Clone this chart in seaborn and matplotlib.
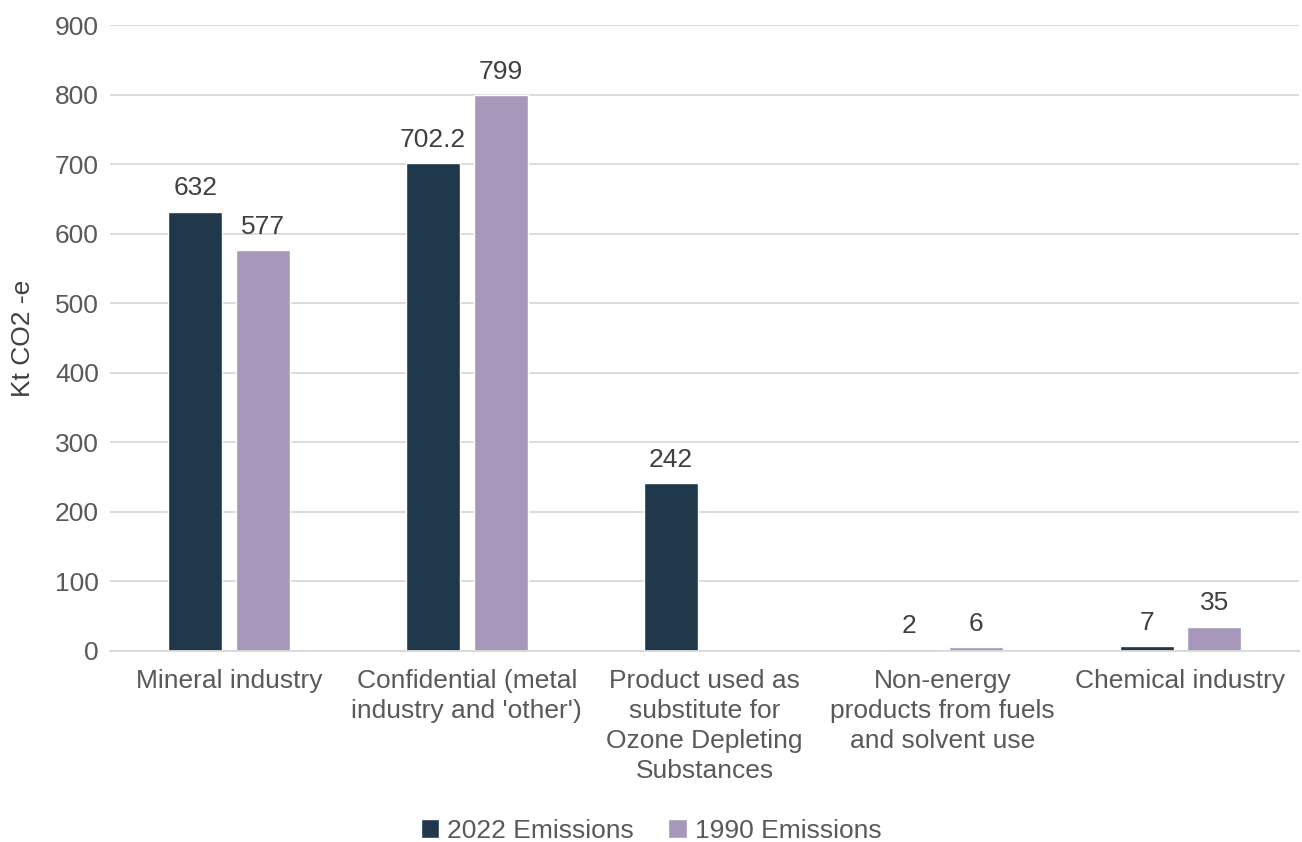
import matplotlib
matplotlib.use("Agg")
import matplotlib.pyplot as plt
import seaborn as sns
import pandas as pd
import numpy as np

categories = ["Mineral industry", "Confidential (metal\nindustry and 'other')",
              "Product used as\nsubstitute for\nOzone Depleting\nSubstances",
              "Non-energy\nproducts from fuels\nand solvent use", "Chemical industry"]
emissions_2022 = [632, 702.2, 242, 2, 7]
emissions_1990 = [577, 799, np.nan, 6, 35]
series = ["2022 Emissions", "1990 Emissions"]
colors = ["#1F384C", "#A797BA"]
yticks = [0, 100, 200, 300, 400, 500, 600, 700, 800, 900]

df = pd.DataFrame({
    "category": categories * 2,
    "series": [series[0]] * len(categories) + [series[1]] * len(categories),
    "value": emissions_2022 + emissions_1990,
})

sns.set_theme(style="white")
plt.rcParams['font.family'] = ['Liberation Sans', 'DejaVu Sans']

fig = plt.figure(figsize=(13.02, 8.42), dpi=100)
ax = fig.add_axes([0.0845, 0.227, 0.9135, 0.743])

sns.barplot(data=df, x="category", y="value", hue="series", palette=colors,
            width=0.567, gap=0.2, ax=ax, saturation=1, legend=True)

ax.set_ylim(0, 900)
ax.set_xlim(-0.5, len(categories) - 0.5)
ax.set_yticks(yticks)
ax.yaxis.grid(True, color="#D9D9D9", linewidth=1.3)
ax.set_axisbelow(True)
for s in ["top", "right", "left"]:
    ax.spines[s].set_visible(False)
ax.spines["bottom"].set_color("#D9D9D9")
ax.spines["bottom"].set_linewidth(1.3)
ax.tick_params(axis="both", length=0, labelsize=19, colors="#595959", pad=8)
ax.tick_params(axis="x", pad=13)
for t in ax.get_xticklabels():
    t.set_linespacing(1.32)
ax.set_xlabel("")
ax.set_ylabel("Kt CO2 -e", fontsize=19, color="#404040", labelpad=14)

vals = [emissions_2022, emissions_1990]
for cont, v in zip(ax.containers, vals):
    present = [x for x in v if not np.isnan(x)]
    bars = [b for b in cont if b is not None]
    for bar, x in zip(bars, present):
        lab = f"{int(x)}" if float(x).is_integer() else f"{x}"
        ax.annotate(lab, (bar.get_x() + bar.get_width() / 2, bar.get_height()),
                    xytext=(0, 8), textcoords="offset points", ha="center", va="bottom",
                    fontsize=19, color="#404040")

handles, labels = ax.get_legend_handles_labels()
ax.legend(handles, labels, loc="lower center", bbox_to_anchor=(0.455, -0.345),
          ncol=2, frameon=False, fontsize=19, handlelength=0.7, handleheight=0.7,
          handletextpad=0.3, columnspacing=1.3, labelcolor="#595959")

fig.savefig("out.png", dpi=100)
